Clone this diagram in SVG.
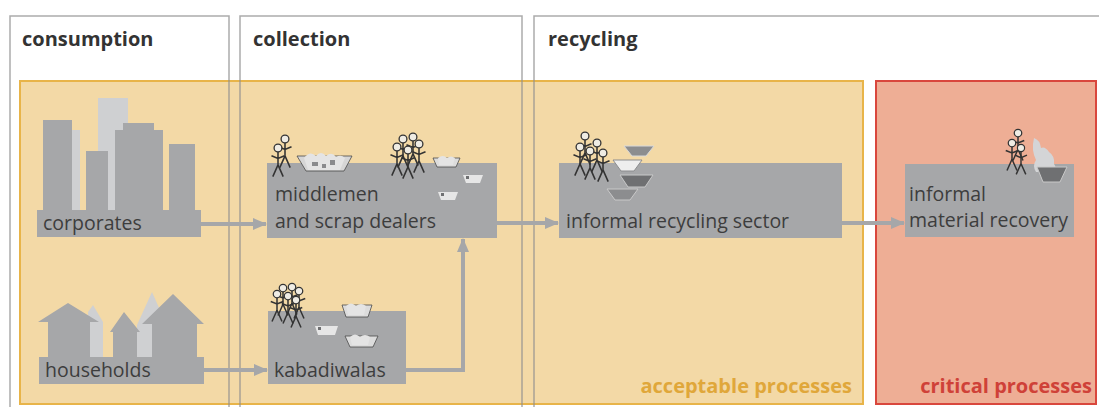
<svg xmlns="http://www.w3.org/2000/svg" xmlns:xlink="http://www.w3.org/1999/xlink" width="1099" height="407" viewBox="0 0 1099 407">
<style>
.hdr{font-family:"Open Sans","Liberation Sans",sans-serif;font-weight:bold;font-size:20px;fill:#333333}
.lbl{font-family:"Open Sans","Liberation Sans",sans-serif;font-size:19.5px;fill:#3d3d3d}
.box{fill:#a6a7a9}
.lt{fill:#cfd0d2}
.col{fill:none;stroke:#8f8f8f;stroke-opacity:0.75;stroke-width:1.5}
.con{fill:none;stroke:#a6a7a9;stroke-width:4}
.bk{stroke:#4a4a4a;stroke-width:0.8}
.junk{fill:#e4e4e4}
</style>
<defs>
<marker id="ah" markerUnits="userSpaceOnUse" markerWidth="14" markerHeight="12" refX="13" refY="6" orient="auto">
<path d="M0,0 L14,6 L0,12 z" fill="#a6a7a9"/>
</marker>
<g id="person">
<circle cx="0" cy="0" r="3" fill="#efece4" stroke="#333" stroke-width="1"/>
<path d="M0,3 V13 M-5,6 L0,8 L5,6 M0,13 L-4,22 M0,13 L4,22" stroke="#333" stroke-width="1.2" fill="none"/>
</g>
</defs>

<g id="background">
<rect x="0" y="0" width="1099" height="407" fill="#ffffff"/>
<rect id="acceptable-area" x="20" y="81" width="843" height="323" fill="#f3d9a6" stroke="#e8b449" stroke-width="2"/>
<rect id="critical-area" x="876" y="81" width="220" height="323" fill="#eeae95" stroke="#d9473d" stroke-width="2"/>
</g>

<g id="columns">
<rect class="col" x="10" y="16" width="219" height="400"/>
<rect class="col" x="240" y="16" width="282" height="400"/>
<rect class="col" x="534" y="16" width="580" height="400"/>
<text class="hdr" x="22" y="46">consumption</text>
<text class="hdr" x="253" y="46">collection</text>
<text class="hdr" x="548" y="46">recycling</text>
</g>

<g id="area-labels">
<text class="hdr" x="852" y="393" text-anchor="end" style="fill:#e0a73a">acceptable processes</text>
<text class="hdr" x="1092" y="393" text-anchor="end" style="fill:#cf4138">critical processes</text>
</g>

<g id="corporates">
<rect class="lt" x="72" y="130" width="8" height="80"/>
<rect class="lt" x="98" y="98" width="30" height="112"/>
<rect class="box" x="43" y="120" width="29" height="90"/>
<rect class="box" x="86" y="151" width="22" height="59"/>
<rect class="box" x="115" y="130" width="48" height="80"/>
<rect class="box" x="123" y="123" width="31" height="8"/>
<rect class="box" x="169" y="144" width="26" height="66"/>
<rect class="box" x="37" y="210" width="164" height="27"/>
<text class="lbl" x="43" y="230">corporates</text>
</g>

<g id="households">
<polygon class="lt" points="88,312 93,305 103,322 103,357 90,357"/>
<polygon class="lt" points="137,325 152,292 160,310 160,357 137,357"/>
<polygon class="box" points="38,322 68,303 99,322 90,322 90,357 48,357 48,322"/>
<polygon class="box" points="110,332 124,312 140,332 137,332 137,357 113,357 113,332"/>
<polygon class="box" points="142,324 173,294 204,324 197,324 197,357 152,357 152,324"/>
<rect class="box" x="39" y="357" width="165" height="27"/>
<text class="lbl" x="45" y="377">households</text>
</g>

<g id="middlemen">
<rect class="box" x="267" y="163" width="230" height="75"/>
<use xlink:href="#person" transform="translate(285,139) scale(1.3)"/>
<use xlink:href="#person" transform="translate(278,148) scale(1.3)"/>
<polygon class="bk" points="297,156 352,156 344,171 306,171" fill="#d6d6d6"/>
<path class="junk" d="M304,158 q6,-8 12,-2 q5,-6 10,0 q6,-5 10,1 q5,-3 9,1 l-5,12 h-32 z"/>
<path d="M312,162 h6 v4 h-6z M330,160 h5 v5 h-5z M322,164 h4 v4 h-4z" fill="#8a8b8d"/>
<use xlink:href="#person" transform="translate(403,139) scale(1.3)"/>
<use xlink:href="#person" transform="translate(413,137) scale(1.3)"/>
<use xlink:href="#person" transform="translate(419,144) scale(1.3)"/>
<use xlink:href="#person" transform="translate(397,147) scale(1.3)"/>
<use xlink:href="#person" transform="translate(408,150) scale(1.3)"/>
<polygon class="bk" points="433,158 460,158 456,167 437,167" fill="#dcdcdc"/>
<path class="junk" d="M438,158 q5,-4 9,0 q4,-3 8,0 l-2,7 h-14z"/>
<polygon points="463,175 483,175 480,183 466,183" fill="#e6e6e6"/>
<path d="M466,176 h3 v3 h-3z" fill="#6f7072"/>
<polygon points="438,192 458,192 455,200 441,200" fill="#e6e6e6"/>
<path d="M441,193 h3 v3 h-3z" fill="#6f7072"/>
<text class="lbl" x="275" y="201">middlemen</text>
<text class="lbl" x="275" y="228">and scrap dealers</text>
</g>

<g id="kabadiwalas">
<rect class="box" x="268" y="311" width="138" height="73"/>
<use xlink:href="#person" transform="translate(283,288) scale(1.25)"/>
<use xlink:href="#person" transform="translate(292,287) scale(1.25)"/>
<use xlink:href="#person" transform="translate(299,291) scale(1.25)"/>
<use xlink:href="#person" transform="translate(277,294) scale(1.25)"/>
<use xlink:href="#person" transform="translate(288,296) scale(1.25)"/>
<use xlink:href="#person" transform="translate(296,300) scale(1.25)"/>
<polygon class="bk" points="342,305 372,305 368,317 346,317" fill="#dcdcdc"/>
<path class="junk" d="M346,306 q5,-5 10,0 q5,-4 10,0 l-2,9 h-16z"/>
<polygon points="315,326 338,326 335,335 318,335" fill="#e6e6e6"/>
<path d="M318,327 h3 v3 h-3z" fill="#6f7072"/>
<polygon class="bk" points="345,336 378,336 373,347 350,347" fill="#dcdcdc"/>
<path class="junk" d="M350,337 q5,-5 10,0 q5,-4 10,0 l-2,8 h-16z"/>
<text class="lbl" x="274" y="377">kabadiwalas</text>
</g>

<g id="recycling-sector">
<rect class="box" x="559" y="163" width="283" height="75"/>
<use xlink:href="#person" transform="translate(585,136) scale(1.3)"/>
<use xlink:href="#person" transform="translate(597,143) scale(1.3)"/>
<use xlink:href="#person" transform="translate(580,147) scale(1.3)"/>
<use xlink:href="#person" transform="translate(590,151) scale(1.3)"/>
<use xlink:href="#person" transform="translate(603,153) scale(1.3)"/>
<polygon points="624,146 654,146 646,156 632,156" fill="#8c8d8f" stroke="#d9d9d9" stroke-width="1"/>
<polygon points="613,160 642,160 634,171 621,171" fill="#eeeeee" stroke="#8c8d8f" stroke-width="1"/>
<polygon points="620,175 653,175 645,187 628,187" fill="#6f7072" stroke="#c9c9c9" stroke-width="1"/>
<polygon points="607,189 638,189 630,200 615,200" fill="#8c8d8f" stroke="#c9c9c9" stroke-width="1"/>
<text class="lbl" x="566" y="228">informal recycling sector</text>
</g>

<g id="material-recovery">
<rect class="box" x="905" y="164" width="169" height="73"/>
<path d="M1034,138 q6,2 7,10 q4,-2 8,4 q6,4 5,12 q3,3 0,8 h-18 q-4,-6 0,-12 q-5,-10 -2,-22 z" fill="#d4d5d7"/>
<polygon points="1037,167 1067,167 1060,182 1043,182" fill="#6f7072" stroke="#c9c9c9" stroke-width="1"/>
<use xlink:href="#person" transform="translate(1018,133) scale(1.25)"/>
<use xlink:href="#person" transform="translate(1012,143) scale(1.25)"/>
<use xlink:href="#person" transform="translate(1021,148) scale(1.2)"/>
<text class="lbl" x="909" y="201">informal</text>
<text class="lbl" x="909" y="227">material recovery</text>
</g>

<g id="connectors">
<path class="con" d="M201,224 H266" marker-end="url(#ah)"/>
<path class="con" d="M204,370 H267" marker-end="url(#ah)"/>
<path class="con" d="M406,370 H463 V239" marker-end="url(#ah)"/>
<path class="con" d="M497,223 H558" marker-end="url(#ah)"/>
<path class="con" d="M842,223 H904" marker-end="url(#ah)"/>
</g>
</svg>
